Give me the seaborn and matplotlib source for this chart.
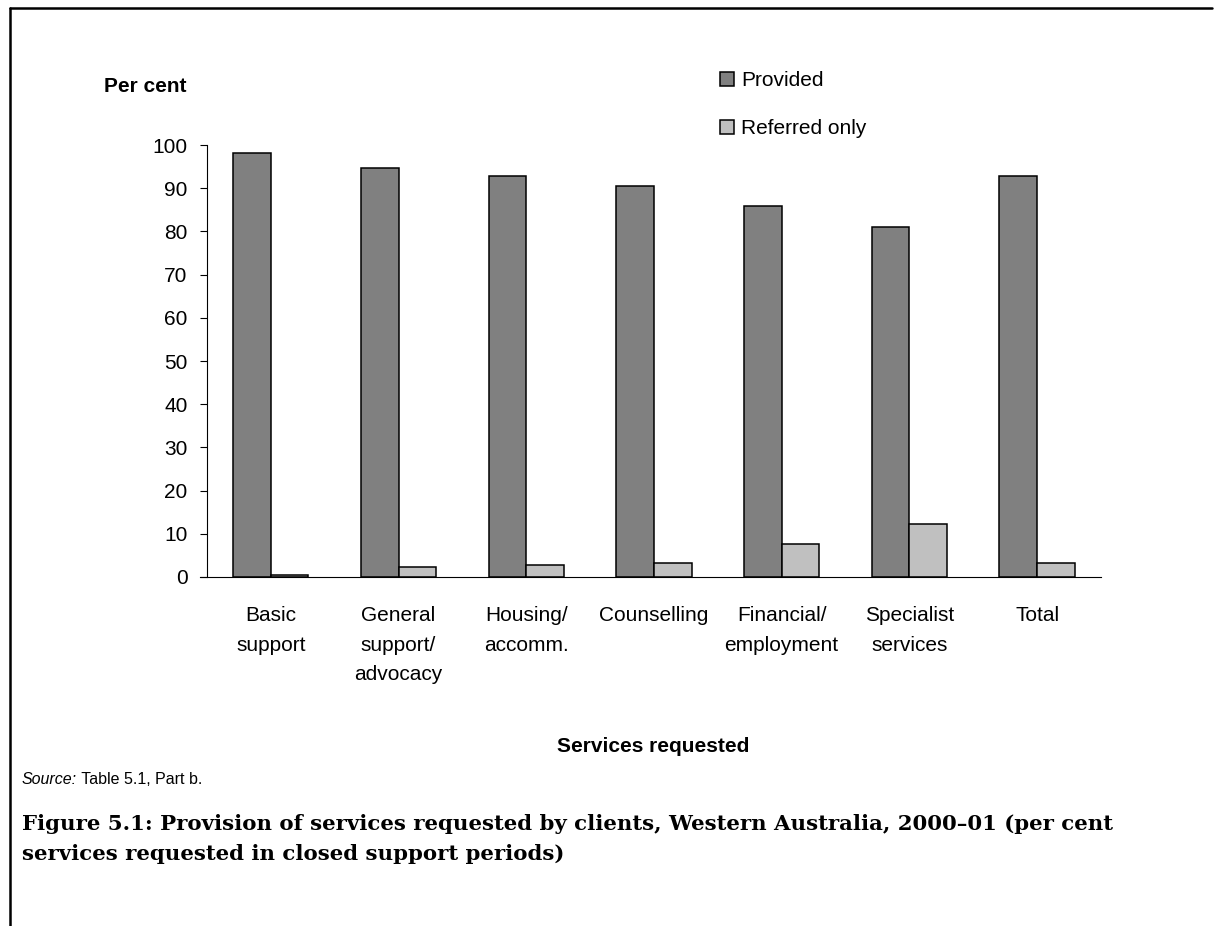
import matplotlib
matplotlib.use("Agg")
import matplotlib.pyplot as plt
from matplotlib.lines import Line2D
import seaborn as sns
import pandas as pd

# Services requested by clients (closed support periods), WA 2000-01
categories = ["Basic\nsupport", "General\nsupport/\nadvocacy", "Housing/\naccomm.",
              "Counselling", "Financial/\nemployment", "Specialist\nservices", "Total"]
provided = [98.2, 94.6, 92.8, 90.4, 85.8, 81.1, 92.8]
referred_only = [0.5, 2.2, 2.7, 3.2, 7.7, 12.3, 3.2]
series_names = ["Provided", "Referred only"]
series_colors = ["#808080", "#c0c0c0"]
y_ticks = list(range(0, 101, 10))

df = pd.DataFrame({
    "Service": categories * 2,
    "Status": [series_names[0]] * len(categories) + [series_names[1]] * len(categories),
    "Per cent": provided + referred_only,
})

sns.set_theme(style="white")
plt.rcParams["font.family"] = ["Liberation Sans", "DejaVu Sans"]
plt.rcParams.update({"text.color": "black", "axes.labelcolor": "black",
                     "xtick.color": "black", "ytick.color": "black"})

fig = plt.figure(figsize=(12.16, 9.26), dpi=100)
ax = fig.add_axes([0.1702, 0.3769, 0.7352, 0.4665])

sns.barplot(data=df, x="Service", y="Per cent", hue="Status",
            hue_order=series_names, palette=series_colors,
            width=0.59, gap=0, edgecolor="black", linewidth=1.1,
            saturation=1, ax=ax, legend=True)

ax.set_ylim(0, 100)
ax.set_xlim(-0.5, len(categories) - 0.5)
ax.set_yticks(y_ticks)
ax.tick_params(axis="y", direction="out", length=5, width=0.8, color="black",
               labelsize=15, pad=9, left=True, labelcolor="black")
ax.tick_params(axis="x", length=0, labelsize=15, pad=21, labelcolor="black")
for lab in ax.get_xticklabels():
    lab.set_linespacing(1.7)
    lab.set_verticalalignment("top")
ax.set_xlabel("")
ax.set_ylabel("")
for side in ("top", "right"):
    ax.spines[side].set_visible(False)
for side in ("left", "bottom"):
    ax.spines[side].set_color("black")
    ax.spines[side].set_linewidth(0.8)
ax.spines["bottom"].set_bounds(-0.555, len(categories) - 0.5)

# Legend stacked above the plot area
handles, labels = ax.get_legend_handles_labels()
ax.legend(handles, labels, loc="upper left", bbox_to_anchor=(0.5925, 0.923),
          bbox_transform=fig.transFigure, frameon=False, fontsize=15,
          handlelength=0.65, handleheight=0.65, handletextpad=0.35,
          labelspacing=1.4, borderpad=0, borderaxespad=0, labelcolor="black")

fig.text(0.0855, 0.907, "Per cent", fontsize=15, fontweight="bold",
         ha="left", va="center")
fig.text(0.537, 0.194, "Services requested", fontsize=15, fontweight="bold",
         ha="center", va="center")

src = fig.text(0.018, 0.150, "Source:", fontsize=11.5, fontstyle="italic",
               ha="left", va="bottom")
fig.add_artist(plt.Annotation(" Table 5.1, Part b.", xy=(1, 0), xycoords=src,
                              fontsize=11.5, ha="left", va="bottom",
                              annotation_clip=False))

fig.text(0.018, 0.121,
         "Figure 5.1: Provision of services requested by clients, Western Australia, 2000\u201301 (per cent\n"
         "services requested in closed support periods)",
         fontsize=15.35, fontweight="bold", family=["DejaVu Serif"],
         ha="left", va="top", linespacing=1.62)

# Frame lines on the top and left edges of the figure
fig.add_artist(Line2D([0.0085, 0.9965], [0.9915, 0.9915], transform=fig.transFigure,
                      color="black", linewidth=1.8))
fig.add_artist(Line2D([0.0085, 0.0085], [0.0, 0.9915], transform=fig.transFigure,
                      color="black", linewidth=1.8))

fig.savefig("out.png", dpi=100, facecolor="white")
